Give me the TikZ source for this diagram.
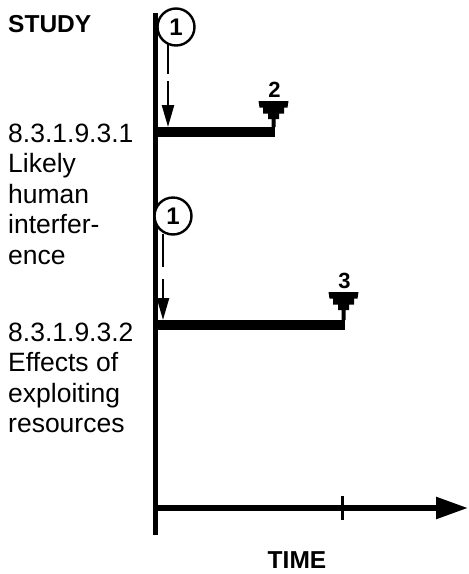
\documentclass[tikz,border=0pt]{standalone}
\usepackage{fontspec}
\setmainfont{Liberation Sans}
\usetikzlibrary{arrows.meta}
\begin{document}
\begin{tikzpicture}[x=1pt,y=-1pt,
  lbl/.style={anchor=base west,inner sep=0pt,font=\fontsize{26.5}{30}\selectfont},
  head/.style={inner sep=0pt,font=\fontsize{24.5}{28}\selectfont\bfseries},
  num/.style={inner sep=0pt,font=\fontsize{22}{24}\selectfont\bfseries},
  circ/.style={draw,circle,line width=2.4pt,minimum size=37pt,inner sep=0pt,font=\fontsize{24}{26}\selectfont\bfseries},
  axis/.style={line width=4.5pt},
  bar/.style={line width=10pt},
  dasharrow/.style={line width=2.4pt,-{Triangle[length=22pt,width=12pt]}},
  well/.style={fill=black}]
\useasboundingbox (0,0) rectangle (469,574);
% axes
\coordinate (vtop) at (155.5,13);
\coordinate (vbot) at (155.5,535);
\coordinate (hstart) at (153.5,508);
\coordinate (hend) at (468,508);
\draw[axis] (vtop) -- (vbot);
\draw[line width=5.5pt,-{Triangle[length=32pt,width=21pt]}] (hstart) -- (hend);
\coordinate (tickt) at (342,496);
\coordinate (tickb) at (342,520);
\draw[line width=3pt] (tickt) -- (tickb);
% labels
\node[head,anchor=base west] (study) at (8,32) {STUDY};
\node[head,anchor=base] (time) at (297,568) {TIME};
\node[lbl] (a1) at (8,142) {8.3.1.9.3.1};
\node[lbl] (a2) at (8,172.5) {Likely};
\node[lbl] (a3) at (8,203) {human};
\node[lbl] (a4) at (8,233.5) {interfer-};
\node[lbl] (a5) at (8,264) {ence};
\node[lbl] (b1) at (8,341) {8.3.1.9.3.2};
\node[lbl] (b2) at (8,371.5) {Effects of};
\node[lbl] (b3) at (8,402) {exploiting};
\node[lbl] (b4) at (8,432.5) {resources};
% bars
\coordinate (bar1s) at (155.5,132);
\coordinate (bar1e) at (275,132);
\coordinate (bar2s) at (155.5,325);
\coordinate (bar2e) at (345,325);
\draw[bar] (bar1s) -- (bar1e);
\draw[bar] (bar2s) -- (bar2e);
% circles and dashed arrows
\node[circ,fill=white] (c1) at (176,27) {1};
\node[circ,fill=white] (c2) at (173,216) {1};
\coordinate (d1s) at (168,44);
\coordinate (d1e) at (168,127);
\coordinate (d2s) at (163,234);
\coordinate (d2e) at (163,320);
\draw[dasharrow,dash pattern=on 30pt off 7pt on 200pt] (d1s) -- (d1e);
\draw[dasharrow,dash pattern=on 33pt off 12pt on 200pt] (d2s) -- (d2e);
% well symbols
\foreach \cx/\t/\b/\n/\lab in {273.5/101/127/w1/2, 343.5/292/320/w2/3}{
  \fill[well] (\cx-15,\t) -- (\cx+15,\t) -- (\cx+14,\t+6.5) -- (\cx+10.5,\t+6.5) -- (\cx+10.5,\t+12.5)
    -- (\cx+5.5,\t+12.5) -- (\cx+5.5,\t+18) -- (\cx+2,\t+18) -- (\cx+2,\b)
    -- (\cx-2,\b) -- (\cx-2,\t+18) -- (\cx-5.5,\t+18) -- (\cx-5.5,\t+12.5) -- (\cx-10.5,\t+12.5)
    -- (\cx-10.5,\t+6.5) -- (\cx-14,\t+6.5) -- cycle;
  \node[num,anchor=base] (\n) at (\cx+1,\t-4) {\lab};
}
\end{tikzpicture}
\end{document}
